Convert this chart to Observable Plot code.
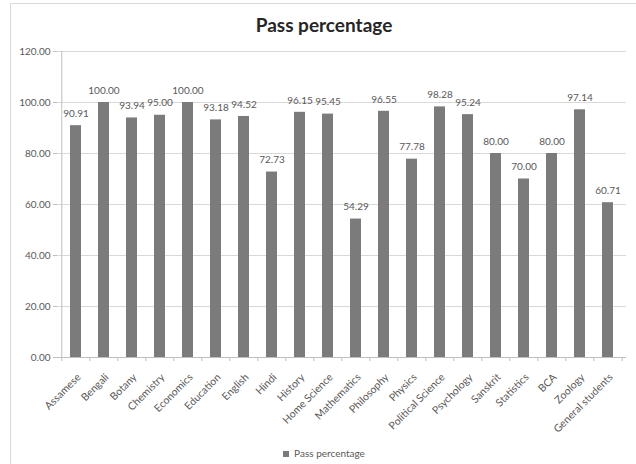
<!DOCTYPE html>
<html>
<head>
<meta charset="utf-8">
<script src="https://cdn.jsdelivr.net/npm/d3@7"></script>
<script src="https://cdn.jsdelivr.net/npm/@observablehq/plot@0.6"></script>
<style>
  html, body { margin: 0; padding: 0; background: #fff; }
  #wrap { position: relative; width: 636px; height: 464px; overflow: hidden; font-family: Lato, "Open Sans", sans-serif; }
  #border { position: absolute; left: 10px; top: 3px; width: 700px; height: 600px; border: 1.5px solid #d9d9d9; box-sizing: border-box; }
  #title { position: absolute; left: 0; width: 648px; top: 13px; line-height: 23px; text-align: center; font-size: 19px; font-weight: bold; color: #262626; }
  #legend { position: absolute; left: 0; width: 648px; top: 446px; line-height: 14px; text-align: center; font-size: 10px; color: #595959; }
  #legend span.sw { display: inline-block; width: 6px; height: 6px; background: #7b7b7b; margin-right: 5px; vertical-align: 0px; }
  #chart { position: absolute; left: 0; top: 0; }
</style>
</head>
<body>
<div id="wrap">
  <div id="border"></div>
  <div id="chart"></div>
  <div id="title">Pass percentage</div>
  <div id="legend"><span class="sw"></span>Pass percentage</div>
</div>
<script>
const categories = ["Assamese","Bengali","Botany","Chemistry","Economics","Education","English","Hindi","History","Home Science","Mathematics","Philosophy","Physics","Political Science","Psychology","Sanskrit","Statistics","BCA","Zoology","General students"];
const values = [90.91,100.00,93.94,95.00,100.00,93.18,94.52,72.73,96.15,95.45,54.29,96.55,77.78,98.28,95.24,80.00,70.00,80.00,97.14,60.71];
const yTicks = [0,20,40,60,80,100,120];

const data = categories.map((c, i) => ({category: c, value: values[i]}));

const W = 636, H = 464, mL = 57, mR = 10, mT = 51, mB = 107;
const step = (W - mL - mR) / categories.length;
const textColor = "#595959";
const gridColor = "#d9d9d9";
const axisColor = "#bfbfbf";

const chart = Plot.plot({
  width: W,
  height: H,
  marginLeft: mL,
  marginRight: mR,
  marginTop: mT,
  marginBottom: mB,
  style: {fontFamily: "Lato, 'Open Sans', sans-serif", color: textColor, background: "transparent"},
  x: {domain: categories, paddingInner: 0.6, paddingOuter: 0.35, label: null},
  y: {domain: [0, 120], label: null},
  marks: [
    Plot.ruleY(yTicks.slice(1), {stroke: gridColor, strokeWidth: 1.2}),
    Plot.ruleX([categories[0]], {y1: 0, y2: 120, dx: -step / 2, stroke: axisColor}),
    Plot.axisY({ticks: yTicks, tickFormat: d => d.toFixed(2), tickSize: 4, tickPadding: 3, stroke: axisColor, fill: textColor, fontSize: 10}),
    Plot.barY(data, {x: "category", y: "value", fill: "#7b7b7b"}),
    Plot.ruleY([0], {stroke: axisColor, strokeWidth: 1.2}),
    Plot.ruleX(categories, {x: d => d, y1: 0, y2: 0, insetBottom: -4, dx: -step / 2, stroke: axisColor}),
    Plot.ruleX([categories[categories.length - 1]], {y1: 0, y2: 0, insetBottom: -4, dx: step / 2, stroke: axisColor}),
    Plot.axisX({tickSize: 0, tickRotate: -45, tickPadding: 10, dx: 3, dy: 8, fill: textColor, fontSize: 10.5, label: null}),
    Plot.text(data, {x: "category", y: "value", text: d => d.value.toFixed(2), dy: -12, fill: textColor, fontSize: 10})
  ]
});
document.getElementById("chart").appendChild(chart);
</script>
</body>
</html>
